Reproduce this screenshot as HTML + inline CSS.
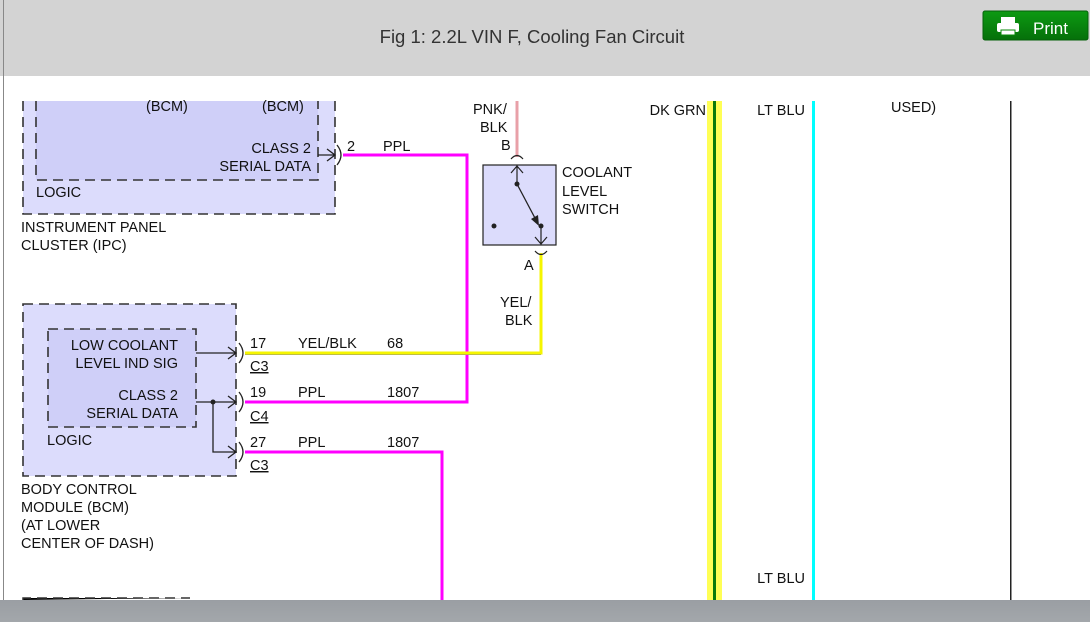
<!DOCTYPE html>
<html><head><meta charset="utf-8"><style>
html,body{margin:0;padding:0;background:#fff;width:1090px;height:622px;overflow:hidden}
svg{display:block}
text{font-family:"Liberation Sans",Arial,sans-serif;font-size:14.5px;fill:#111}
</style></head><body>
<svg width="1090" height="622" viewBox="0 0 1090 622">
<defs>
<linearGradient id="bb" x1="0" y1="0" x2="0" y2="1"><stop offset="0" stop-color="#9a9ea3"/><stop offset="1" stop-color="#a3a7ab"/></linearGradient>
<linearGradient id="pg" x1="0" y1="0" x2="0" y2="1"><stop offset="0" stop-color="#0c9a12"/><stop offset="1" stop-color="#06700a"/></linearGradient>
</defs>
<rect x="0" y="0" width="1090" height="76" fill="#d3d3d3"/>
<rect x="3" y="0" width="1" height="600" fill="#888"/>
<text x="532" y="43" text-anchor="middle" style="font-size:18.5px;fill:#333">Fig 1: 2.2L VIN F, Cooling Fan Circuit</text>
<rect x="983" y="11" width="105" height="29" rx="2" fill="url(#pg)" stroke="#05600a"/>
<rect x="1001" y="17" width="14" height="7" fill="#fff"/>
<rect x="997" y="23" width="22" height="9" rx="2" fill="#fff"/>
<rect x="1001" y="30" width="14" height="5" fill="#fff" stroke="#0a8a0a" stroke-width="1"/>
<text x="1033" y="34" style="font-size:17px;fill:#fff">Print</text>

<rect x="23" y="101" width="312" height="113" fill="#dcdcfc"/>
<path d="M23 101V214H335V101" fill="none" stroke="#333" stroke-width="1.6" stroke-dasharray="10,6"/>
<rect x="36" y="101" width="282" height="79" fill="#cfcff8"/>
<path d="M36 101V180H318V101" fill="none" stroke="#333" stroke-width="1.6" stroke-dasharray="10,6"/>
<text x="146" y="111">(BCM)</text><text x="262" y="111">(BCM)</text>
<text x="311" y="153" text-anchor="end">CLASS 2</text>
<text x="311" y="171" text-anchor="end">SERIAL DATA</text>
<text x="36" y="197">LOGIC</text>
<text x="21" y="232">INSTRUMENT PANEL</text>
<text x="21" y="250">CLUSTER (IPC)</text>
<path d="M318 155H335M327 149L335 155L327 161" fill="none" stroke="#222" stroke-width="1.3"/>
<path d="M337 145Q345 155 337 165" fill="none" stroke="#222" stroke-width="1.3"/>
<text x="347" y="151">2</text><text x="383" y="151">PPL</text>

<path d="M343 155H467V402H245" fill="none" stroke="#ff00ff" stroke-width="3"/>
<path d="M245 452H442V600" fill="none" stroke="#ff00ff" stroke-width="3"/>
<path d="M517 101V157" stroke="#e8a0a8" stroke-width="3"/>
<path d="M245 354.5H541" stroke="#888" stroke-width="1"/>
<path d="M541 253V353H245" fill="none" stroke="#f5f500" stroke-width="3"/>

<rect x="483" y="165" width="73" height="80" fill="#dcdcfc" stroke="#222" stroke-width="1.2"/>
<path d="M511 159Q517 152 523 159" fill="none" stroke="#222" stroke-width="1.2"/>
<path d="M535 251Q541 258 547 251" fill="none" stroke="#222" stroke-width="1.2"/>
<path d="M517 165V185M511 173L517 166L523 173" fill="none" stroke="#222" stroke-width="1.2"/>
<path d="M541 226V245M535 237L541 244L547 237" fill="none" stroke="#222" stroke-width="1.2"/>
<path d="M517 184L536 220" stroke="#222" stroke-width="1.3"/>
<path d="M531 219L539 226L538 215Z" fill="#222"/>
<circle cx="517" cy="184" r="2.5" fill="#222"/><circle cx="541" cy="226" r="2.5" fill="#222"/><circle cx="494" cy="226" r="2.5" fill="#222"/>
<text x="473" y="114">PNK/</text><text x="480" y="132">BLK</text><text x="501" y="150">B</text>
<text x="562" y="177">COOLANT</text><text x="562" y="196">LEVEL</text><text x="562" y="214">SWITCH</text>
<text x="524" y="270">A</text>
<text x="500" y="307">YEL/</text><text x="505" y="325">BLK</text>

<rect x="23" y="304" width="213" height="172" fill="#dcdcfc"/>
<rect x="23" y="304" width="213" height="172" fill="none" stroke="#333" stroke-width="1.6" stroke-dasharray="10,6"/>
<rect x="48" y="329" width="148" height="98" fill="#cfcff8" stroke="#333" stroke-width="1.6" stroke-dasharray="10,6"/>
<text x="178" y="350" text-anchor="end">LOW COOLANT</text>
<text x="178" y="368" text-anchor="end">LEVEL IND SIG</text>
<text x="178" y="400" text-anchor="end">CLASS 2</text>
<text x="178" y="418" text-anchor="end">SERIAL DATA</text>
<text x="47" y="445">LOGIC</text>
<text x="21" y="494">BODY CONTROL</text><text x="21" y="512">MODULE (BCM)</text>
<text x="21" y="530">(AT LOWER</text><text x="21" y="548">CENTER OF DASH)</text>
<g fill="none" stroke="#222" stroke-width="1.3">
<path d="M196 353H236M228 347L236 353L228 359"/>
<path d="M196 402H236M228 396L236 402L228 408"/>
<path d="M213 402V452H236M228 446L236 452L228 458"/>
<path d="M239 343Q247 353 239 363"/>
<path d="M239 392Q247 402 239 412"/>
<path d="M239 442Q247 452 239 462"/>
</g>
<circle cx="213" cy="402" r="2.5" fill="#222"/>
<text x="250" y="348">17</text><text x="298" y="348">YEL/BLK</text><text x="387" y="348">68</text>
<text x="250" y="371" text-decoration="underline">C3</text>
<text x="250" y="397">19</text><text x="298" y="397">PPL</text><text x="387" y="397">1807</text>
<text x="250" y="421" text-decoration="underline">C4</text>
<text x="250" y="447">27</text><text x="298" y="447">PPL</text><text x="387" y="447">1807</text>
<text x="250" y="470" text-decoration="underline">C3</text>

<rect x="707" y="101" width="15" height="499" fill="#ffff55"/>
<rect x="713" y="101" width="3" height="499" fill="#0a7a0a"/>
<rect x="812" y="101" width="3" height="499" fill="#00ffff"/>
<rect x="1010" y="101" width="1.5" height="499" fill="#222"/>
<text x="706" y="115" text-anchor="end">DK GRN</text>
<text x="805" y="115" text-anchor="end">LT BLU</text>
<text x="891" y="112">USED)</text>
<text x="805" y="583" text-anchor="end">LT BLU</text>
<path d="M23 600V598H190" stroke="#333" stroke-width="1.5" stroke-dasharray="10,6"/>
<rect x="0" y="600" width="1090" height="22" fill="url(#bb)"/>
</svg>
</body></html>
